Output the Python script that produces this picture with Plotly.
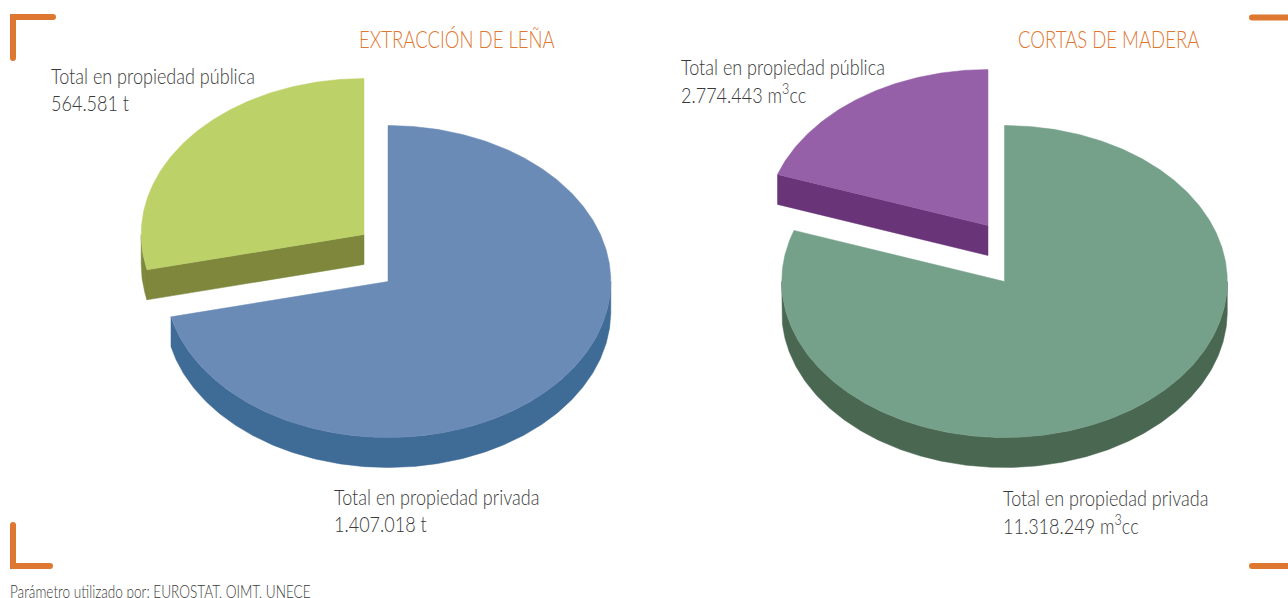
import numpy as np
import plotly.graph_objects as go

# ---- data ----
chart_titles = ["EXTRACCIÓN DE LEÑA", "CORTAS DE MADERA"]
owner_labels = ["Total en propiedad privada", "Total en propiedad pública"]
units = ["t", "m<sup>3</sup>cc"]
lena_values = [1407018, 564581]
madera_values = [11318249, 2774443]

# ---- style ----
FONT = "Lato"
TXT = "#3a3a3a"
ORANGE = "#DE7730"
lena_top = ["#6B8BB7", "#BCD168"]
lena_side = ["#3F6B97", "#7E873C"]
madera_top = ["#75A08A", "#9560A8"]
madera_side = ["#4A6752", "#693478"]
RX, RY, DEPTH = 222.8, 156, 30


def ell(cx, cy, a):
    return cx + RX * np.sin(a), cy - RY * np.cos(a)


def arc(a0, a1):
    n = max(2, int(abs(a1 - a0) * 90))
    return np.linspace(a0, a1, n)


def add_poly(fig, x, y, color, name, text):
    fig.add_trace(go.Scatter(
        x=x, y=y, mode="lines", fill="toself", fillcolor=color,
        line=dict(color=color, width=0.5), name=name, text=text,
        hoverinfo="text", showlegend=False))


def add_pie(fig, values, centers, tops, sides):
    total = sum(values)
    split = 2 * np.pi * values[0] / total
    ranges = [(0.0, split), (split, 2 * np.pi)]
    # public (back, pulled-out) slice first, then private
    for i in (1, 0):
        cx, cy = centers[i]
        a0, a1 = ranges[i]
        hover = f"{owner_labels[i]}: {values[i]:,}".replace(",", ".")
        # outer wall: only the front half of the rim is visible
        w0, w1 = max(a0, np.pi / 2), min(a1, 3 * np.pi / 2)
        if w1 > w0:
            t = arc(w0, w1)
            ex, ey = ell(cx, cy, t)
            add_poly(fig, np.r_[ex, ex[::-1], ex[0]],
                     np.r_[ey, ey[::-1] + DEPTH, ey[0]], sides[i], owner_labels[i], hover)
        # cut face looking towards the viewer
        if i == 1:
            ex, ey = ell(cx, cy, a0)
            add_poly(fig, [cx, ex, ex, cx, cx],
                     [cy, ey, ey + DEPTH, cy + DEPTH, cy], sides[i], owner_labels[i], hover)
        t = arc(a0, a1)
        ex, ey = ell(cx, cy, t)
        add_poly(fig, np.r_[cx, ex, cx], np.r_[cy, ey, cy], tops[i], owner_labels[i], hover)


fig = go.Figure()
add_pie(fig, lena_values, [(388, 281.5), (364, 234.5)], lena_top, lena_side)
add_pie(fig, madera_values, [(1004.5, 281.5), (988, 225.5)], madera_top, madera_side)


def note(text, x, y, size=22, color=TXT):
    fig.add_annotation(text=text, x=x, y=y, xref="x", yref="y", showarrow=False,
                       xanchor="left", yanchor="middle", align="left",
                       font=dict(family=FONT, size=size, color=color, weight=300))


def amount(v, u):
    return f"{v:,}".replace(",", ".") + " " + u


note(chart_titles[0], 357, 38.5, 24, ORANGE)
note(chart_titles[1], 1016, 38.5, 24, ORANGE)
note(owner_labels[1], 49, 75.5)
note(amount(lena_values[1], units[0]), 49, 102.5)
note(owner_labels[0], 332, 496.5)
note(amount(lena_values[0], units[0]), 332, 523)
note(owner_labels[1], 679, 66.5)
note(amount(madera_values[1], units[1]), 679, 93)
note(owner_labels[0], 1001, 497.5)
note(amount(madera_values[0], units[1]), 1001, 524)
note("Parámetro utilizado por: EUROSTAT, OIMT, UNECE", 8, 591, 17)

# corner marks
marks = [
    [(53, 17), (13, 17), (13, 58)],
    [(13, 525), (13, 566), (50, 566)],
    [(1252, 17.5), (1295, 17.5)],
    [(1252, 566), (1295, 566)],
]
for m in marks:
    path = "M " + " L ".join(f"{x},{y}" for x, y in m)
    fig.add_shape(type="path", path=path, xref="x", yref="y",
                  line=dict(color=ORANGE, width=6))

fig.update_layout(
    width=1288, height=598, margin=dict(l=0, r=0, t=0, b=0),
    paper_bgcolor="white", plot_bgcolor="white", showlegend=False,
    xaxis=dict(range=[0, 1288], visible=False, fixedrange=True),
    yaxis=dict(range=[598, 0], visible=False, fixedrange=True),
)

# The reference uses a condensed light face: no such font is installed, so the
# real text is squeezed horizontally from its left edge; rounded ends on the marks.
post = """
document.body.style.margin='0';document.body.style.overflow='hidden';
var squeeze={24:0.773,22:0.82,17:0.80};
document.querySelectorAll('.annotation-text').forEach(function(el){
  var s=squeeze[Math.round(parseFloat(el.style.fontSize))]||0.82;
  var b=el.getBBox(), old=el.getAttribute('transform')||'';
  el.setAttribute('transform',old+' translate('+(b.x*(1-s))+',0) scale('+s+',1)');
});
document.querySelectorAll('.shapelayer path').forEach(function(p){
  p.style.strokeLinecap='round';p.style.strokeLinejoin='miter';
});
"""
fig.write_html("out.html", config={"displayModeBar": False}, post_script=post)
